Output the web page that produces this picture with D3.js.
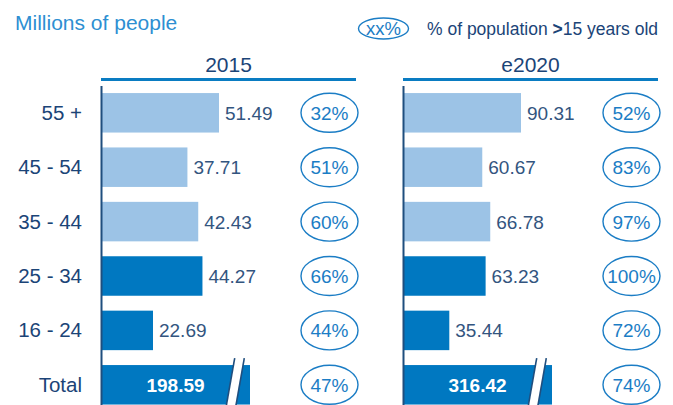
<!DOCTYPE html>
<html><head><meta charset="utf-8">
<script src="https://cdn.jsdelivr.net/npm/d3@7"></script>
<style>
html,body{margin:0;padding:0;background:#fff;}
svg{display:block;font-family:"Liberation Sans",Arial,sans-serif;}
</style></head>
<body>
<svg id="chart" width="673" height="405"></svg>
<script>
// ---- data ----
const categories = ["55 +", "45 - 54", "35 - 44", "25 - 34", "16 - 24", "Total"];
const panelTitles = ["2015", "e2020"];
const values2015 = [51.49, 37.71, 42.43, 44.27, 22.69, 198.59];
const values2020 = [90.31, 60.67, 66.78, 63.23, 35.44, 316.42];
const pct2015 = [32, 51, 60, 66, 44, 47];
const pct2020 = [52, 83, 97, 100, 72, 74];
const groupShade = ["light", "light", "light", "dark", "dark", "total"];
const titleText = "Millions of people";
const legendBadge = "xx%";
const legendText = "% of population >15 years old";

// ---- styles ----
const C = {
  light: "#9cc3e6", dark: "#0078c1", header: "#0a7cc2", axis: "#1f4e7e",
  title: "#2d8fd2", cat: "#1b4477", val: "#33557f", pct: "#1b7dc5"
};
const svg = d3.select("#chart");

const y = d3.scaleBand().domain(categories)
  .range([85.6, 412]).paddingInner(0.274).paddingOuter(0.137);

// title
svg.append("text").attr("x", 15).attr("y", 30).attr("font-size", 21)
  .attr("fill", C.title).text(titleText);

// legend
svg.append("ellipse").attr("cx", 383.5).attr("cy", 28.5).attr("rx", 25).attr("ry", 10.5)
  .attr("fill", "none").attr("stroke", C.pct).attr("stroke-width", 1.4);
svg.append("text").attr("x", 383.5).attr("y", 35).attr("text-anchor", "middle")
  .attr("font-size", 18.5).attr("fill", C.pct).text(legendBadge);
const lt = svg.append("text").attr("x", 427).attr("y", 35).attr("font-size", 17.5).attr("fill", C.cat);
lt.append("tspan").text("% of population ");
lt.append("tspan").attr("font-weight", "bold").text(">");
lt.append("tspan").text("15 years old");

// category labels
svg.append("g").selectAll("text").data(categories).join("text")
  .attr("x", 82).attr("y", d => y(d) + y.bandwidth() / 2 + 7)
  .attr("text-anchor", "end").attr("font-size", 20.5).attr("fill", C.cat)
  .text(d => d);

function panel(ox, title, values, pcts) {
  const g = svg.append("g").attr("transform", `translate(${ox},0)`);
  const ageVals = values.slice(0, 5);
  const x = d3.scaleLinear().domain([0, d3.max(ageVals)]).range([0, 118]);
  const brokenW = x.range()[1] + 31;

  // header
  g.append("text").attr("x", 127.5).attr("y", 72).attr("text-anchor", "middle")
    .attr("font-size", 21).attr("fill", C.cat).text(title);
  g.append("line").attr("x1", 0).attr("x2", 255).attr("y1", 79.5).attr("y2", 79.5)
    .attr("stroke", C.header).attr("stroke-width", 3);

  const rows = categories.map((c, i) => ({ c, v: values[i], p: pcts[i], s: groupShade[i] }));

  // bars
  g.selectAll("rect.bar").data(rows).join("rect").attr("class", "bar")
    .attr("x", 0).attr("y", d => y(d.c))
    .attr("width", d => d.s === "total" ? brokenW : x(d.v))
    .attr("height", y.bandwidth())
    .attr("fill", d => d.s === "light" ? C.light : C.dark);

  // value labels
  g.selectAll("text.val").data(rows.filter(d => d.s !== "total")).join("text").attr("class", "val")
    .attr("x", d => x(d.v) + 6).attr("y", d => y(d.c) + y.bandwidth() / 2 + 7)
    .attr("font-size", 19).attr("fill", C.val).text(d => d.v.toFixed(2));

  // total label + break
  const tot = rows.find(d => d.s === "total");
  g.append("text").attr("x", brokenW / 2).attr("y", y(tot.c) + y.bandwidth() / 2 + 7)
    .attr("text-anchor", "middle").attr("font-size", 19).attr("font-weight", "bold")
    .attr("fill", "#fff").text(tot.v.toFixed(2));
  const bt = y(tot.c) - 7, bb = 412, cx = brokenW - 10.5, sk = 9.5, gw = 4.8;
  const lx1 = cx - gw, lx2 = cx + gw;
  g.append("polygon")
    .attr("points", `${lx1},${bt} ${lx2},${bt} ${lx2 - sk},${bb} ${lx1 - sk},${bb}`)
    .attr("fill", "#fff");
  [lx1, lx2].forEach(lx => g.append("line")
    .attr("x1", lx).attr("y1", bt).attr("x2", lx - sk).attr("y2", bb)
    .attr("stroke", C.axis).attr("stroke-width", 1.6));

  // axis line
  g.append("line").attr("x1", 0.5).attr("x2", 0.5).attr("y1", 86).attr("y2", 405)
    .attr("stroke", C.axis).attr("stroke-width", 2);

  // percentage ellipses
  const pg = g.selectAll("g.pct").data(rows).join("g").attr("class", "pct")
    .attr("transform", d => `translate(228.5,${y(d.c) + y.bandwidth() / 2})`);
  pg.append("ellipse").attr("rx", 28.5).attr("ry", 19.5)
    .attr("fill", "none").attr("stroke", C.pct).attr("stroke-width", 1.4);
  pg.append("text").attr("y", 7).attr("text-anchor", "middle")
    .attr("font-size", 19).attr("fill", C.pct).text(d => d.p + "%");
}

panel(101, panelTitles[0], values2015, pct2015);
panel(403, panelTitles[1], values2020, pct2020);
</script>
</body></html>
